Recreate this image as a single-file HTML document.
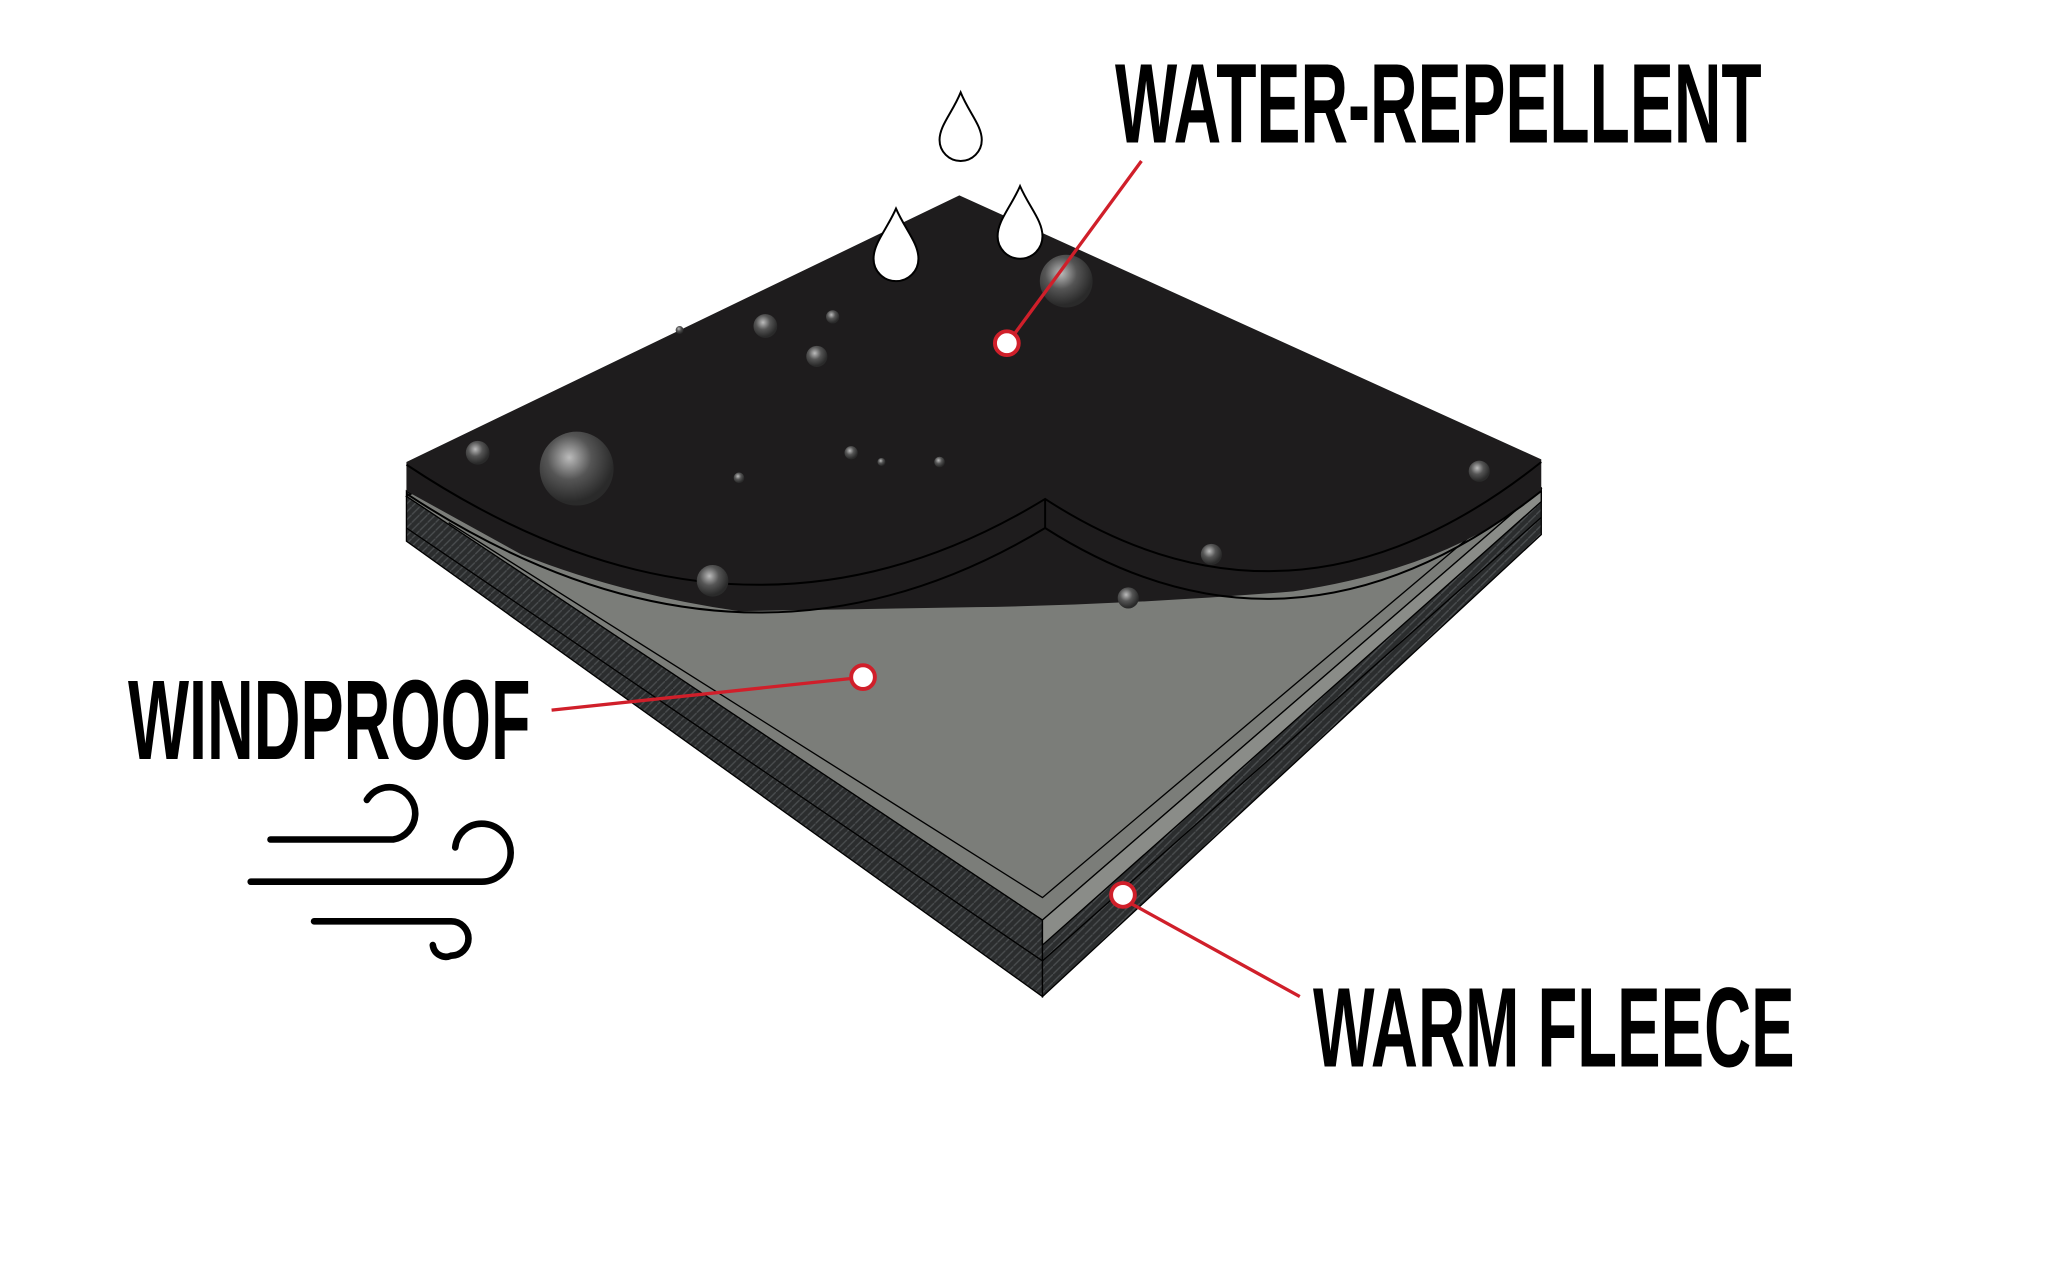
<!DOCTYPE html>
<html><head><meta charset="utf-8"><style>
html,body{margin:0;padding:0;background:#fff;}
svg{display:block;}
text{font-family:"Liberation Sans Narrow","Liberation Sans",sans-serif;font-weight:bold;fill:#000;}
</style></head><body>
<svg width="2048" height="1283" viewBox="0 0 1552 972" preserveAspectRatio="none" xmlns="http://www.w3.org/2000/svg">
<defs>
<radialGradient id="bub" cx="40%" cy="35%" r="60%">
<stop offset="0" stop-color="#bbb"/><stop offset="0.5" stop-color="#555"/><stop offset="1" stop-color="#2a2a2a"/>
</radialGradient>
<pattern id="fl" width="6" height="6" patternUnits="userSpaceOnUse">
<rect width="6" height="6" fill="#2b2d2e"/><path d="M0 6L6 0" stroke="#4a4d4f" stroke-width="1"/>
</pattern>
</defs>
<rect width="1552" height="972" fill="#fff"/>
<!-- fleece sides -->
<polygon points="308,372 790,697 790,755 308,410" fill="url(#fl)" stroke="#000" stroke-width="1"/>
<polygon points="790,697 1168,370 1168,405 790,755" fill="url(#fl)" stroke="#000" stroke-width="1"/>
<polyline points="308,400 790,728 1168,392" fill="none" stroke="#000" stroke-width="1"/>
<!-- gray surface -->
<polygon points="308,376 727,170 1168,370 790,697" fill="#7b7d79" stroke="#000" stroke-width="1"/>
<polygon points="790,697 1168,370 1168,380 790,716" fill="#8a8c88" stroke="#000" stroke-width="1"/>
<polyline points="340,396 790,680 1150,376" fill="none" stroke="#000" stroke-width="1"/>
<!-- black top layer -->
<path d="M308,350 L727,148 L1168,348 L1168,372 Q1100,430 980,448 Q860,458 740,460 L560,463 Q470,450 395,420 L308,372 Z" fill="#1e1c1d"/>
<path d="M308,352 Q560,520 792,378 Q980,500 1168,350" fill="none" stroke="#000" stroke-width="1.5"/>
<path d="M308,374 Q560,540 792,400 Q980,520 1168,372" fill="none" stroke="#000" stroke-width="1.5"/>
<line x1="792" y1="378" x2="792" y2="400" stroke="#000" stroke-width="1.5"/>
<!-- bubbles -->
<g fill="url(#bub)">
<circle cx="437" cy="355" r="28"/><circle cx="808" cy="213" r="20"/><circle cx="362" cy="343" r="9"/>
<circle cx="580" cy="247" r="9"/><circle cx="619" cy="270" r="8"/><circle cx="631" cy="240" r="5"/>
<circle cx="540" cy="440" r="12"/><circle cx="918" cy="420" r="8"/><circle cx="1121" cy="357" r="8"/>
<circle cx="855" cy="453" r="8"/><circle cx="645" cy="343" r="5"/><circle cx="560" cy="362" r="4"/>
<circle cx="712" cy="350" r="4"/><circle cx="668" cy="350" r="3"/><circle cx="515" cy="250" r="3"/>
</g>
<!-- drops -->
<path d="M728,70 C722,85 712,95 712,106 A16,16 0 0 0 744,106 C744,95 734,85 728,70 Z" fill="#fff" stroke="#000" stroke-width="1.5"/>
<path d="M679,158 C672,174 662,184 662,196 A17,17 0 0 0 696,196 C696,184 686,174 679,158 Z" fill="#fff" stroke="#000" stroke-width="1.5"/>
<path d="M773,141 C766,157 756,167 756,179 A17,17 0 0 0 790,179 C790,167 780,157 773,141 Z" fill="#fff" stroke="#000" stroke-width="1.5"/>
<!-- connectors -->
<g stroke="#d01f2a" stroke-width="2.5" fill="none">
<line x1="865" y1="122" x2="768" y2="254"/>
<line x1="418" y1="538" x2="645" y2="514"/>
<line x1="858" y1="685" x2="985" y2="755"/>
</g>
<g fill="#fff" stroke="#d01f2a" stroke-width="3">
<circle cx="763" cy="260" r="9"/><circle cx="654" cy="513" r="9"/><circle cx="851" cy="678" r="9"/>
</g>
<!-- wind -->
<g stroke="#000" stroke-width="5" fill="none" stroke-linecap="round">
<path d="M205,636 L298,636 A20,20 0 0 0 300,597 A20,20 0 0 0 278,606"/>
<path d="M190,668 L365,668 A22,22 0 0 0 365,624 A20,20 0 0 0 345,642"/>
<path d="M238,698 L342,698 A13,13 0 0 1 342,724 A10,10 0 0 1 328,716"/>
</g>
<!-- labels -->
<text x="845" y="108" font-size="86" textLength="490" lengthAdjust="spacingAndGlyphs">WATER-REPELLENT</text>
<text x="97" y="575" font-size="86" textLength="305" lengthAdjust="spacingAndGlyphs">WINDPROOF</text>
<text x="995" y="808" font-size="86" textLength="365" lengthAdjust="spacingAndGlyphs">WARM FLEECE</text>
</svg>
</body></html>
